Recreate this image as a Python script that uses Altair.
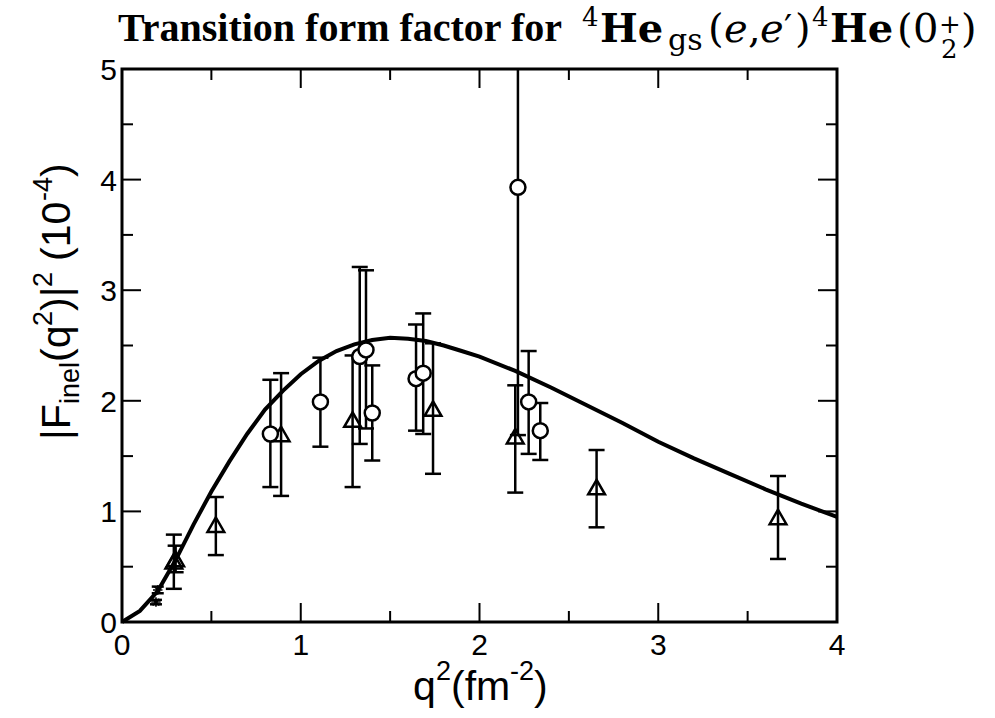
import altair as alt
import pandas as pd

# ---------------- data ----------------
curve_q = [0, 0.1, 0.2, 0.3, 0.4, 0.5, 0.6, 0.7, 0.8, 0.9, 1.0, 1.1, 1.2, 1.3, 1.4, 1.5,
           1.6, 1.7, 1.8, 1.9, 2.0, 2.2, 2.4, 2.6, 2.8, 3.0, 3.2, 3.4, 3.6, 3.8, 4.0]
curve_v = [0, 0.10, 0.28, 0.56, 0.88, 1.18, 1.45, 1.70, 1.92, 2.09, 2.24, 2.36, 2.45, 2.51, 2.55, 2.57,
           2.56, 2.54, 2.50, 2.45, 2.40, 2.27, 2.12, 1.96, 1.80, 1.63, 1.48, 1.34, 1.20, 1.07, 0.95]

circ_q = [0.83, 1.11, 1.33, 1.365, 1.40, 1.645, 1.685, 2.215, 2.275, 2.34]
circ_v = [1.70, 1.99, 2.40, 2.46, 1.89, 2.20, 2.25, 3.93, 1.99, 1.73]
circ_lo = [1.22, 1.585, 1.61, 1.75, 1.46, 1.73, 1.70, 1.69, 1.52, 1.465]
circ_hi = [2.19, 2.39, 3.21, 3.18, 2.32, 2.69, 2.79, 6.17, 2.45, 1.98]

tri_q = [0.29, 0.30, 0.525, 0.89, 1.29, 1.74, 2.20, 2.655, 3.67]
tri_v = [0.55, 0.57, 0.88, 1.70, 1.83, 1.93, 1.68, 1.22, 0.95]
tri_lo = [0.30, 0.45, 0.605, 1.14, 1.22, 1.34, 1.17, 0.856, 0.57]
tri_hi = [0.79, 0.69, 1.13, 2.25, 2.41, 2.52, 2.14, 1.555, 1.32]

star_q = [0.20, 0.19]
star_v = [0.29, 0.18]
star_lo = [0.26, 0.16]
star_hi = [0.32, 0.20]

x_major = [0, 1, 2, 3, 4]
x_minor = [0.5, 1.5, 2.5, 3.5]
y_major = [0, 1, 2, 3, 4, 5]
y_minor = [0.5, 1.5, 2.5, 3.5, 4.5]
x_labels = ["0", "1", "2", "3", "4"]
y_labels = ["0", "1", "2", "3", "4", "5"]

# ---------------- layout ----------------
PL, PT = 122, 69
W, H = 715, 553
PR, PB = 995 - PL - W, 718 - PT - H
MAJ, MIN = 19, 11
LW = 2.5

xs = alt.Scale(domain=[0, 4], nice=False, zero=False)
ys = alt.Scale(domain=[0, 5], nice=False, zero=False)

curve_df = pd.DataFrame({"q": curve_q, "v": curve_v})
circ_df = pd.DataFrame({"q": circ_q, "v": circ_v, "lo": circ_lo, "hi": circ_hi})
tri_df = pd.DataFrame({"q": tri_q, "v": tri_v, "lo": tri_lo, "hi": tri_hi})
star_df = pd.DataFrame({"q": star_q, "v": star_v, "lo": star_lo, "hi": star_hi})


def X(f):
    return alt.X(f, scale=xs, axis=None)


def Y(f):
    return alt.Y(f, scale=ys, axis=None)


curve = alt.Chart(curve_df).mark_line(color="black", strokeWidth=4).encode(
    x=X("q:Q"), y=Y("v:Q"))


def errbars(df, half):
    bar = alt.Chart(df).mark_rule(color="black", strokeWidth=LW, clip=True).encode(
        x=X("q:Q"), y=Y("lo:Q"), y2="hi:Q")
    caps = []
    for f in ("lo", "hi"):
        caps.append(alt.Chart(df).mark_rule(color="black", strokeWidth=LW, clip=True,
                                            xOffset=-half, x2Offset=half).encode(
            x=X("q:Q"), x2="q:Q", y=Y(f + ":Q")))
    return [bar] + caps


circles = alt.Chart(circ_df).mark_point(shape="circle", size=225, filled=False, fill="white",
                                        fillOpacity=1, stroke="black", strokeWidth=LW,
                                        opacity=1).encode(x=X("q:Q"), y=Y("v:Q"))

triangles = alt.Chart(tri_df).mark_point(shape="triangle-up", size=280, filled=False,
                                         stroke="black", strokeWidth=LW, opacity=1).encode(
    x=X("q:Q"), y=Y("v:Q"))

asterisk = "M-1,0L1,0M0,-1L0,1M-0.7,-0.7L0.7,0.7M-0.7,0.7L0.7,-0.7"
stars = alt.Chart(star_df).mark_point(shape=asterisk, size=90, filled=False,
                                      stroke="black", strokeWidth=1.5, opacity=1).encode(
    x=X("q:Q"), y=Y("v:Q"))


def ticks(vals, axis, length):
    df = pd.DataFrame({"t": vals})
    out = []
    if axis == "x":
        for a, b in ((H, H - length), (0, length)):
            out.append(alt.Chart(df).mark_rule(color="black", strokeWidth=2).encode(
                x=X("t:Q"), y=alt.value(a), y2=alt.value(b)))
    else:
        for a, b in ((0, length), (W, W - length)):
            out.append(alt.Chart(df).mark_rule(color="black", strokeWidth=2).encode(
                y=Y("t:Q"), x=alt.value(a), x2=alt.value(b)))
    return out


xlab = alt.Chart(pd.DataFrame({"t": x_major, "s": x_labels})).mark_text(
    align="center", baseline="alphabetic", font="Liberation Sans", fontSize=30,
    color="black").encode(x=X("t:Q"), y=alt.value(H + 33), text="s:N")
ylab = alt.Chart(pd.DataFrame({"t": y_major, "s": y_labels})).mark_text(
    align="right", baseline="alphabetic", font="Liberation Sans", fontSize=30,
    color="black", dy=11).encode(y=Y("t:Q"), x=alt.value(-5), text="s:N")


def txt(s, px, py, size, weight="normal", style="normal", font="Liberation Serif", angle=0):
    return alt.Chart(alt.Data(values=[{}])).mark_text(
        text=s, align="left", baseline="alphabetic", font=font, fontSize=size,
        fontWeight=weight, fontStyle=style, angle=angle, color="black").encode(
        x=alt.value(px - PL), y=alt.value(py - PT))


M = "DejaVu Serif"
S = "Liberation Sans"
texts = [
    # title
    txt("Transition form factor for", 118, 41, 40, weight="bold"),
    txt("4", 582, 26, 26, font=M),
    txt("He", 600, 42, 40, weight="bold", font=M),
    txt("gs", 668, 50, 30, font=M),
    txt("(", 708, 42, 40, font=M),
    txt("e", 724, 42, 40, style="italic", font=M),
    txt(",", 748, 42, 40, font=M),
    txt("e", 760, 42, 40, style="italic", font=M),
    txt("\u2032", 784, 40, 36, font=M),
    txt(")", 795, 42, 40, font=M),
    txt("4", 812, 26, 26, font=M),
    txt("He", 830, 42, 40, weight="bold", font=M),
    txt("(", 897, 42, 40, font=M),
    txt("0", 913, 42, 40, font=M),
    txt("+", 939, 33, 26, font=M),
    txt("2", 941, 58, 26, font=M),
    txt(")", 961, 42, 40, font=M),
    # x-axis title
    txt("q", 413, 700, 41, font=S),
    txt("2", 436, 680, 27, font=S),
    txt("(fm", 451, 700, 41, font=S),
    txt("-2", 510, 680, 27, font=S),
    txt(")", 534, 700, 41, font=S),
    # y-axis title (rotated)
    txt("|F", 70, 440, 41, font=S, angle=270),
    txt("inel", 79, 404, 27, font=S, angle=270),
    txt("(q", 70, 362, 41, font=S, angle=270),
    txt("2", 52, 326, 27, font=S, angle=270),
    txt(")|", 70, 311, 41, font=S, angle=270),
    txt("2", 52, 287, 27, font=S, angle=270),
    txt("(10", 70, 261, 41, font=S, angle=270),
    txt("-4", 52, 201, 27, font=S, angle=270),
    txt(")", 70, 177, 41, font=S, angle=270),
]

layers = [curve]
layers += errbars(tri_df, 8) + errbars(circ_df, 8) + errbars(star_df, 6)
layers += [triangles, circles, stars]
layers += ticks(x_major, "x", MAJ) + ticks(x_minor, "x", MIN)
layers += ticks(y_major, "y", MAJ) + ticks(y_minor, "y", MIN)
layers += [xlab, ylab]
layers += texts

chart = alt.layer(*layers).properties(
    width=W, height=H,
    autosize=alt.AutoSizeParams(type="none"),
    padding={"left": PL, "top": PT, "right": PR, "bottom": PB},
    background="white",
).configure_view(stroke="black", strokeWidth=3)

chart.save("out.html", embed_options={"renderer": "svg", "actions": False})
